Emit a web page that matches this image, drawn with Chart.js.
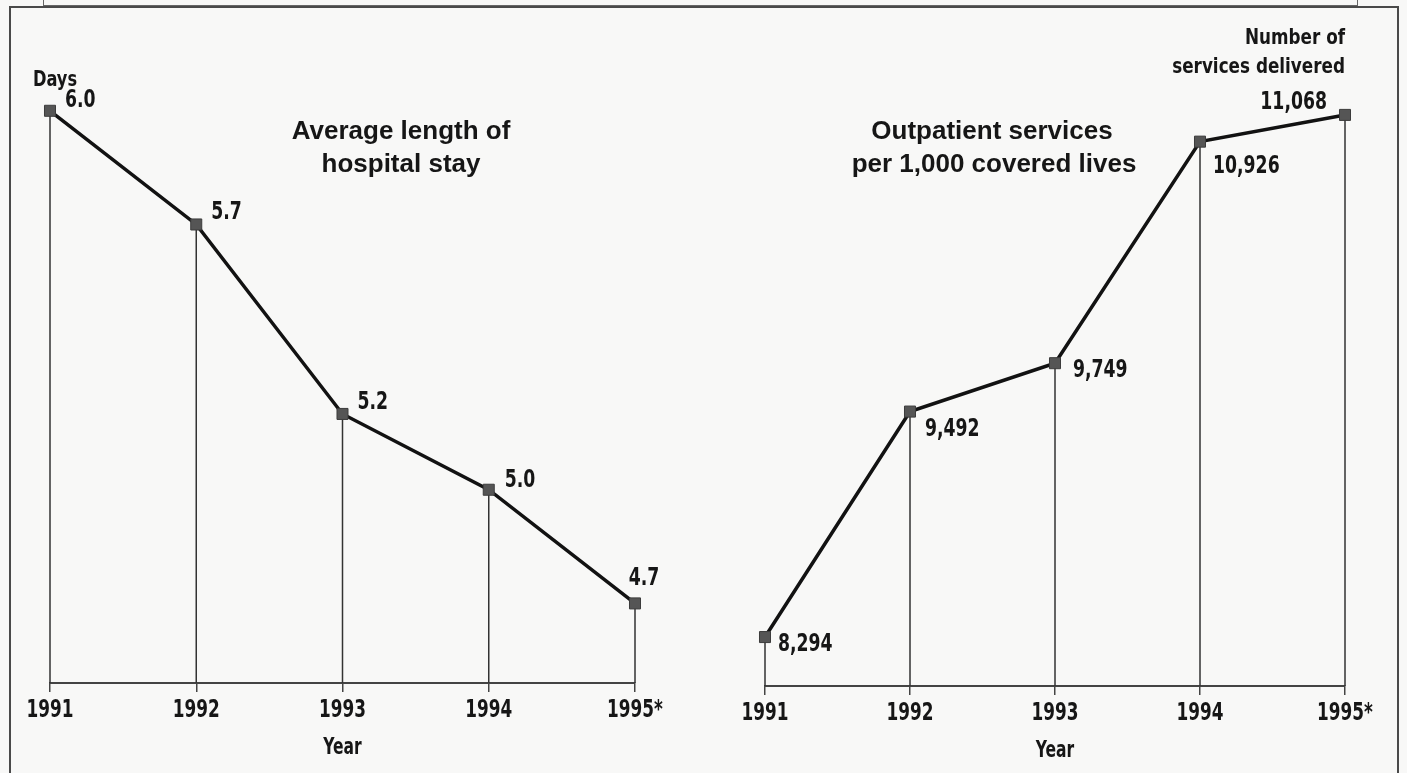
<!DOCTYPE html>
<html>
<head>
<meta charset="utf-8">
<title>Hospital stay and outpatient services, 1991-1995</title>
<script src="https://cdn.jsdelivr.net/npm/chart.js@4.4.1/dist/chart.umd.min.js"></script>
<style>
    html, body { margin: 0; padding: 0; background: #f8f8f7; }
    body { width: 1407px; height: 773px; position: relative; overflow: hidden; }
    .frame { position: absolute; left: 9px; top: 6px; width: 1386px; height: 800px; border: 2px solid #4a4a4a; border-bottom: none; }
    .upper { position: absolute; left: 43px; top: -8px; width: 1313px; height: 13px; border: 1.5px solid #666; border-top: none; }
    #stayBox { position: absolute; left: 0; top: 0; width: 700px; height: 773px; }
    #outBox { position: absolute; left: 700px; top: 0; width: 707px; height: 773px; }
</style>
</head>
<body>
<div class="upper"></div>
<div class="frame"></div>
<div id="stayBox"><canvas id="stayChart"></canvas></div>
<div id="outBox"><canvas id="outChart"></canvas></div>

<script>
(function() {
    'use strict';

    // Values
    const years = ['1991', '1992', '1993', '1994', '1995*'];
    const stayDays = [6.0, 5.7, 5.2, 5.0, 4.7];
    const outpatientServices = [8294, 9492, 9749, 10926, 11068];

    // Value label placement per point: [dx, dy, align]
    const stayLabelPos = [[15, -10, 'left'], [15, -12, 'left'], [15, -11, 'left'], [16, -9, 'left'], [9, -25, 'center']];
    const outLabelPos = [[13, 8, 'left'], [15, 18, 'left'], [18, 8, 'left'], [13, 25, 'left'], [-18, -12, 'right']];

    const NARROW = '"DejaVu Sans Condensed", "DejaVu Sans", sans-serif';
    const WIDE = '"Liberation Sans", Arial, Helvetica, sans-serif';
    const INK = '#161616';

    /**
     * Bold condensed text, squeezed horizontally to get the tall narrow look
     */
    function narrowText(ctx, text, x, y, size, squeeze, align) {
        ctx.save();
        ctx.font = 'bold ' + size + 'px ' + NARROW;
        ctx.fillStyle = INK;
        ctx.textAlign = align;
        ctx.textBaseline = 'middle';
        ctx.translate(x, y);
        ctx.scale(squeeze, 1);
        ctx.fillText(text, 0, 0);
        ctx.restore();
    }

    /**
     * Thin vertical line from each point down to the baseline
     */
    const dropLines = {
        id: 'dropLines',
        beforeDatasetsDraw(chart) {
            const ctx = chart.ctx;
            const bottom = chart.chartArea.bottom;
            ctx.save();
            ctx.strokeStyle = '#333';
            ctx.lineWidth = 1.5;
            chart.getDatasetMeta(0).data.forEach(function(pt) {
                ctx.beginPath();
                ctx.moveTo(pt.x, pt.y);
                ctx.lineTo(pt.x, bottom);
                ctx.stroke();
            });
            ctx.restore();
        }
    };

    /**
     * Year labels under the tick marks and the "Year" caption
     */
    const yearAxisText = {
        id: 'yearAxisText',
        afterDraw(chart) {
            const ctx = chart.ctx;
            const xs = chart.scales.x;
            const bottom = chart.chartArea.bottom;
            xs.ticks.forEach(function(t, i) {
                narrowText(ctx, xs.getLabelForValue(t.value), xs.getPixelForTick(i), bottom + 27, 25, 0.75, 'center');
            });
            narrowText(ctx, 'Year', (chart.chartArea.left + chart.chartArea.right) / 2, bottom + 65, 23, 0.75, 'center');
        }
    };

    /**
     * Value labels next to the markers plus free text (titles, units)
     */
    function makeLabels(format, placement, notes) {
        return {
            id: 'valueLabels',
            afterDatasetsDraw(chart) {
                const ctx = chart.ctx;
                const values = chart.data.datasets[0].data;
                chart.getDatasetMeta(0).data.forEach(function(pt, i) {
                    const p = placement[i];
                    narrowText(ctx, format(values[i]), pt.x + p[0], pt.y + p[1], 24, 0.8, p[2]);
                });
                notes.forEach(function(n) {
                    if (n.narrow) {
                        narrowText(ctx, n.text, n.x, n.y, n.size, n.narrow, n.align);
                        return;
                    }
                    ctx.save();
                    ctx.fillStyle = INK;
                    ctx.textBaseline = 'middle';
                    ctx.font = 'bold ' + n.size + 'px ' + WIDE;
                    ctx.textAlign = n.align;
                    ctx.fillText(n.text, n.x, n.y);
                    ctx.restore();
                });
            }
        };
    }

    function xAxis(axisHeight) {
        return {
            offset: false,
            grid: { display: true, drawOnChartArea: false, drawTicks: true, tickLength: 9, color: '#444', lineWidth: 1.5 },
            border: { display: true, color: '#444', width: 2 },
            ticks: { display: false, autoSkip: false, maxRotation: 0 },
            title: { display: false },
            afterFit: function(scale) {
                scale.height = axisHeight;
            }
        };
    }

    function lineDataset(values) {
        return {
            data: values,
            borderColor: '#121212',
            borderWidth: 3.5,
            tension: 0,
            pointStyle: 'rect',
            pointRadius: 7.8,
            pointBackgroundColor: '#555',
            pointBorderColor: '#3c3c3c',
            pointBorderWidth: 1,
            clip: false
        };
    }

    const baseOptions = {
        responsive: true,
        maintainAspectRatio: false,
        animation: false,
        events: [],
        plugins: { legend: { display: false }, tooltip: { enabled: false } }
    };

    // Average length of hospital stay
    new Chart(document.getElementById('stayChart'), {
        type: 'line',
        data: { labels: years, datasets: [lineDataset(stayDays)] },
        options: Object.assign({}, baseOptions, {
            layout: { padding: { left: 50, right: 65, top: 35, bottom: 0 } },
            scales: {
                x: xAxis(90),
                y: { display: false, min: 4.49, max: 6.2 }
            }
        }),
        plugins: [dropLines, yearAxisText, makeLabels(
            function(v) { return v.toFixed(1); },
            stayLabelPos,
            [
                { text: 'Days', x: 33, y: 80, align: 'left', size: 22, narrow: 0.82 },
                { text: 'Average length of', x: 401, y: 132, align: 'center', size: 26 },
                { text: 'hospital stay', x: 401, y: 165, align: 'center', size: 26 }
            ]
        )]
    });

    // Outpatient services per 1,000 covered lives
    new Chart(document.getElementById('outChart'), {
        type: 'line',
        data: { labels: years, datasets: [lineDataset(outpatientServices)] },
        options: Object.assign({}, baseOptions, {
            layout: { padding: { left: 65, right: 62, top: 40, bottom: 0 } },
            scales: {
                x: xAxis(87),
                y: { display: false, min: 8034, max: 11466 }
            }
        }),
        plugins: [dropLines, yearAxisText, makeLabels(
            function(v) { return v.toLocaleString('en-US'); },
            outLabelPos,
            [
                { text: 'Number of', x: 645, y: 38, align: 'right', size: 22, narrow: 0.85 },
                { text: 'services delivered', x: 645, y: 67, align: 'right', size: 22, narrow: 0.85 },
                { text: 'Outpatient services', x: 292, y: 132, align: 'center', size: 26 },
                { text: 'per 1,000 covered lives', x: 294, y: 165, align: 'center', size: 26 }
            ]
        )]
    });
})();
</script>
</body>
</html>
